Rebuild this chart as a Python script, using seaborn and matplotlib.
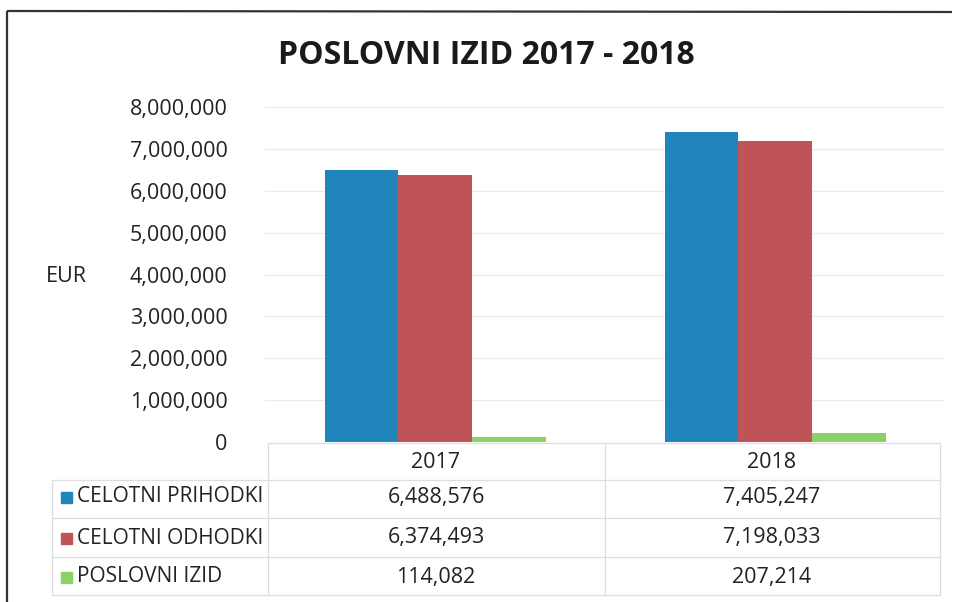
import pandas as pd
import seaborn as sns
import matplotlib.pyplot as plt
from matplotlib.lines import Line2D
from matplotlib.patches import Rectangle

years = ["2017", "2018"]
series = ["CELOTNI PRIHODKI", "CELOTNI ODHODKI", "POSLOVNI IZID"]
prihodki = [6488576, 7405247]
odhodki = [6374493, 7198033]
izid = [114082, 207214]
colors = ["#1F85BB", "#BE5458", "#8ED068"]

W, H = 954, 602


def px(x, y):
    # pixel position (from top-left) -> figure fraction
    return x / W, 1 - y / H


def main():
    df = pd.DataFrame({
        "leto": years * 3,
        "serija": [s for s in series for _ in years],
        "vrednost": prihodki + odhodki + izid,
    })

    sns.set_style("white")
    plt.rcParams["font.family"] = ["Open Sans", "DejaVu Sans"]

    fig = plt.figure(figsize=(W / 100, H / 100), dpi=100, facecolor="white")
    ax = fig.add_axes([265 / W, 1 - 442 / H, 680 / W, 335 / H])

    sns.barplot(data=df, x="leto", y="vrednost", hue="serija", hue_order=series,
                palette=colors, width=0.65, gap=0, saturation=1, ax=ax,
                legend=False, errorbar=None, linewidth=0)

    ax.set_ylim(0, 8000000)
    ax.set_xlim(-0.5, 1.5)
    ax.set_yticks(range(0, 8000001, 1000000))
    ax.set_yticklabels([f"{v:,}" for v in range(0, 8000001, 1000000)],
                       fontsize=15.5, color="#222222")
    ax.tick_params(axis="y", length=0, pad=27)
    ax.set_xticks([])
    ax.set_xlabel("")
    ax.set_ylabel("")
    ax.yaxis.grid(True, color="#ebebeb", linewidth=0.9)
    ax.set_axisbelow(True)
    for s in ["top", "right", "left", "bottom"]:
        ax.spines[s].set_visible(False)

    # title and axis title
    fig.text(*px(486, 56), "POSLOVNI IZID 2017 - 2018", ha="center", va="center",
             fontsize=23, fontweight="bold", color="#1a1a1a")
    fig.text(*px(66, 277), "EUR", ha="center", va="center", fontsize=15.5, color="#222222")

    # data table
    grid_c = "#dedede"
    for y in [480, 518, 557, 595]:
        fig.add_artist(Line2D([52 / W, 940 / W], [1 - y / H] * 2, color=grid_c, lw=0.9))
    for x in [268, 605, 940]:
        fig.add_artist(Line2D([x / W] * 2, [1 - 443 / H, 1 - 595 / H], color=grid_c, lw=0.9))
    fig.add_artist(Line2D([268 / W, 940 / W], [1 - 443 / H] * 2, color=grid_c, lw=0.9))
    fig.add_artist(Line2D([52 / W] * 2, [1 - 480 / H, 1 - 595 / H], color=grid_c, lw=0.9))

    col_x = [436, 772]
    for yr, cx in zip(years, col_x):
        fig.text(*px(cx, 463), yr, ha="center", va="center", fontsize=15.5, color="#222222")

    row_y = [497, 538, 577]
    for name, vals, c, ry in zip(series, [prihodki, odhodki, izid], colors, row_y):
        fig.add_artist(Rectangle(px(61, ry + 5.5), 11 / W, 11 / H, color=c))
        fig.text(*px(77, ry), name, ha="left", va="center", fontsize=15, color="#222222")
        for v, cx in zip(vals, col_x):
            fig.text(*px(cx, ry), f"{v:,}", ha="center", va="center",
                     fontsize=15.5, color="#222222")

    # scan frame
    fig.add_artist(Line2D([7 / W, 7 / W], [1 - 11 / H, 0], color="#333333", lw=1.6,
                          solid_capstyle="butt"))
    fig.add_artist(Line2D([7 / W, 952 / W], [1 - 11 / H, 1 - 12 / H], color="#333333", lw=1.6,
                          solid_capstyle="butt"))

    fig.savefig("out.png", dpi=100, facecolor="white")
    plt.close(fig)


if __name__ == "__main__":
    main()
